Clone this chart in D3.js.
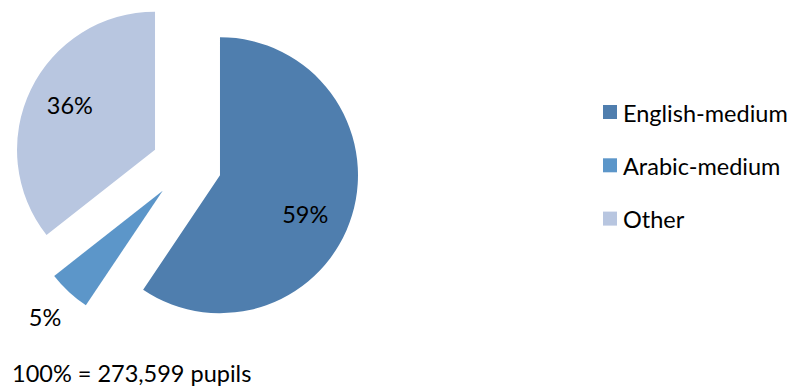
<!DOCTYPE html>
<html>
<head>
<meta charset="utf-8">
<script src="https://cdn.jsdelivr.net/npm/d3@7.9.0/dist/d3.min.js"></script>
<style>
  body { margin: 0; background: #fff; }
  text { font-family: Lato, "Open Sans", sans-serif; fill: #000; }
</style>
</head>
<body>
<svg id="chart"></svg>
<script>
// Data
const categories = ["English-medium", "Arabic-medium", "Other"];
const shares = [59.4, 5.0, 35.6];
const labels = ["59%", "5%", "36%"];
const colors = ["#4F7EAE", "#5C96C9", "#B8C6E0"];
const totalNote = "100% = 273,599 pupils";

const width = 803, height = 387;
const cx = 186.5, cy = 165, radius = 138, explode = 35;
const fontSize = 23.5;

// label placement: distance from slice tip and small angle nudge (degrees)
const labelDist = [94, 173, 96];
const labelNudge = [8, 0, 1.5];

const svg = d3.select("#chart")
    .attr("width", width)
    .attr("height", height);

const data = categories.map((c, i) => ({ name: c, value: shares[i], label: labels[i], color: colors[i], i }));

const pie = d3.pie()
    .sort(null)
    .value(d => d.value)
    .startAngle(0)
    .endAngle(2 * Math.PI);

const arc = d3.arc()
    .innerRadius(0)
    .outerRadius(radius);

const arcs = pie(data);

// Each slice pushed out along its mid angle
function offset(d) {
    const a = (d.startAngle + d.endAngle) / 2;
    return [Math.sin(a) * explode, -Math.cos(a) * explode];
}

function labelXY(d) {
    const o = offset(d);
    const a = (d.startAngle + d.endAngle) / 2 + labelNudge[d.data.i] * Math.PI / 180;
    const r = labelDist[d.data.i];
    return [o[0] + Math.sin(a) * r, o[1] - Math.cos(a) * r];
}

const g = svg.append("g")
    .attr("transform", `translate(${cx},${cy})`);

g.selectAll("path")
    .data(arcs)
    .enter()
    .append("path")
    .attr("d", arc)
    .attr("fill", d => d.data.color)
    .attr("transform", d => `translate(${offset(d)})`);

// Data labels
g.selectAll("text.label")
    .data(arcs)
    .enter()
    .append("text")
    .attr("class", "label")
    .attr("text-anchor", "middle")
    .attr("dy", "0.35em")
    .attr("transform", d => `translate(${labelXY(d)})`)
    .style("font-size", fontSize + "px")
    .text(d => d.data.label);

// Legend
const legend = svg.append("g")
    .attr("transform", "translate(603,105)");

const rows = legend.selectAll("g")
    .data(data)
    .enter()
    .append("g")
    .attr("transform", (d, i) => `translate(0,${i * 53.3})`);

rows.append("rect")
    .attr("width", 14)
    .attr("height", 14)
    .attr("fill", d => d.color);

rows.append("text")
    .attr("x", 20)
    .attr("y", 16.5)
    .style("font-size", fontSize + "px")
    .text(d => d.name);

// Footnote
svg.append("text")
    .attr("x", 12)
    .attr("y", 382)
    .style("font-size", fontSize + "px")
    .text(totalNote);
</script>
</body>
</html>
